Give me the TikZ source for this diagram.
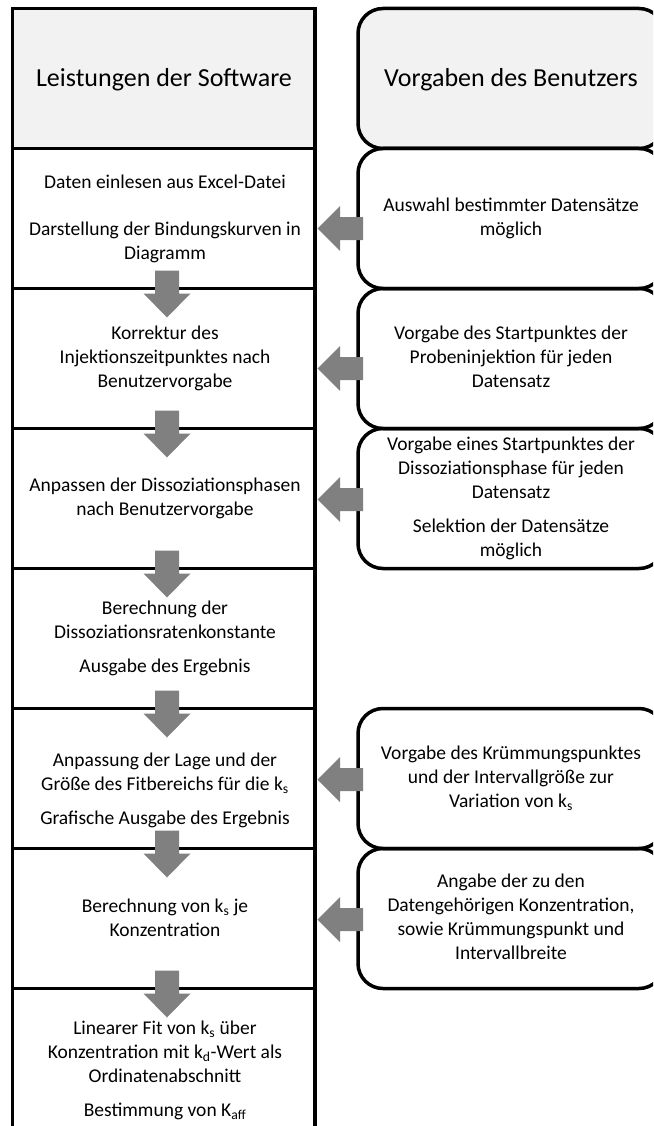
\documentclass[tikz,border=0pt]{standalone}
\usepackage{fontspec}
\setmainfont{Carlito}
\usetikzlibrary{calc}
\definecolor{headgray}{RGB}{242,242,242}
\definecolor{arrowgray}{RGB}{128,128,128}
\begin{document}
\begin{tikzpicture}[x=1pt,y=-1pt,
  cell/.style={draw=black, line width=3.5pt, minimum width=302.5pt, minimum height=140pt, inner sep=0pt, outer sep=0pt},
  ucell/.style={cell, rounded corners=25pt, minimum width=306pt},
  headfill/.style={fill=headgray},
  txt/.style={align=center, font=\fontsize{19.5}{24}\selectfont, inner sep=0pt,
    execute at begin node=\strut, execute at end node=\strut},
  htxt/.style={align=center, font=\fontsize{26}{31}\selectfont, inner sep=0pt},
  downblock/.pic={\fill[arrowgray] (-12,0) -- (12,0) -- (12,23) -- (23.5,23) -- (0,47) -- (-23.5,23) -- (-12,23) -- cycle;},
  leftblock/.pic={\fill[arrowgray] (0,0) -- (22.5,-22.5) -- (22.5,-11.5) -- (45.5,-11.5) -- (45.5,11.5) -- (22.5,11.5) -- (22.5,22.5) -- cycle;}
]
\useasboundingbox (0,0) rectangle (653,1126);
\clip (0,0) rectangle (653,1126);

% software column
\node[cell, headfill] (s0) at (163.75,78.5) {};
\node[cell] (s1) at (163.75,218.5) {};
\node[cell] (s2) at (163.75,358.5) {};
\node[cell] (s3) at (163.75,498.5) {};
\node[cell] (s4) at (163.75,638.5) {};
\node[cell] (s5) at (163.75,778.5) {};
\node[cell] (s6) at (163.75,918.5) {};
\node[cell] (s7) at (163.75,1058.5) {};

% user column
\node[ucell, headfill] (u0) at (511,78.5) {};
\node[ucell] (u1) at (511,218.5) {};
\node[ucell] (u2) at (511,358.5) {};
\node[ucell] (u3) at (511,498.5) {};
\node[ucell] (u5) at (511,778.5) {};
\node[ucell] (u6) at (511,918.5) {};

% flow arrows down the software column
\pic at ($(s1.south)+(3.25,-18)$) {downblock};
\pic at ($(s2.south)+(3.25,-18)$) {downblock};
\pic at ($(s3.south)+(3.25,-18)$) {downblock};
\pic at ($(s4.south)+(3.25,-18)$) {downblock};
\pic at ($(s5.south)+(3.25,-18)$) {downblock};
\pic at ($(s6.south)+(3.25,-18)$) {downblock};

% user input arrows
\pic at ($(s1.east)+(2.5,10)$) {leftblock};
\pic at ($(s2.east)+(2.5,10)$) {leftblock};
\pic at ($(s3.east)+(2.5,1)$) {leftblock};
\pic at ($(s5.east)+(2.5,1)$) {leftblock};
\pic at ($(s6.east)+(2.5,1)$) {leftblock};

% headings
\node[htxt] (h0) at (164,80) {Leistungen der Software};
\node[htxt] (h1) at (511,80) {Vorgaben des Benutzers};

% software texts
\node[txt] (t1) at (165,220.5) {Daten einlesen aus Excel-Datei\\[23pt]Darstellung der Bindungskurven in\\Diagramm};
\node[txt] (t2) at (165,360) {Korrektur des\\Injektionszeitpunktes nach\\Benutzervorgabe};
\node[txt] (t3) at (165,500) {Anpassen der Dissoziationsphasen\\nach Benutzervorgabe};
\node[txt] (t4) at (165,640) {Berechnung der\\Dissoziationsratenkonstante\\[10pt]Ausgabe des Ergebnis};
\node[txt] (t5) at (165,792) {Anpassung der Lage und der\\Größe des Fitbereichs für die k\textsubscript{s}\\[10pt]Grafische Ausgabe des Ergebnis};
\node[txt] (t6) at (165,921) {Berechnung von k\textsubscript{s} je\\Konzentration};
\node[txt] (t7) at (165,1072.5) {Linearer Fit von k\textsubscript{s} über\\Konzentration mit k\textsubscript{d}-Wert als\\Ordinatenabschnitt\\[10pt]Bestimmung von K\textsubscript{aff}};

% user texts
\node[txt] (v1) at (511,220) {Auswahl bestimmter Datensätze\\möglich};
\node[txt] (v2) at (511,360) {Vorgabe des Startpunktes der\\Probeninjektion für jeden\\Datensatz};
\node[txt] (v3) at (511,500.5) {Vorgabe eines Startpunktes der\\Dissoziationsphase für jeden\\Datensatz\\[10pt]Selektion der Datensätze\\möglich};
\node[txt] (v5) at (511,780) {Vorgabe des Krümmungspunktes\\und der Intervallgröße zur\\Variation von k\textsubscript{s}};
\node[txt] (v6) at (511,920.5) {Angabe der zu den\\Datengehörigen Konzentration,\\sowie Krümmungspunkt  und\\Intervallbreite};
\end{tikzpicture}
\end{document}
